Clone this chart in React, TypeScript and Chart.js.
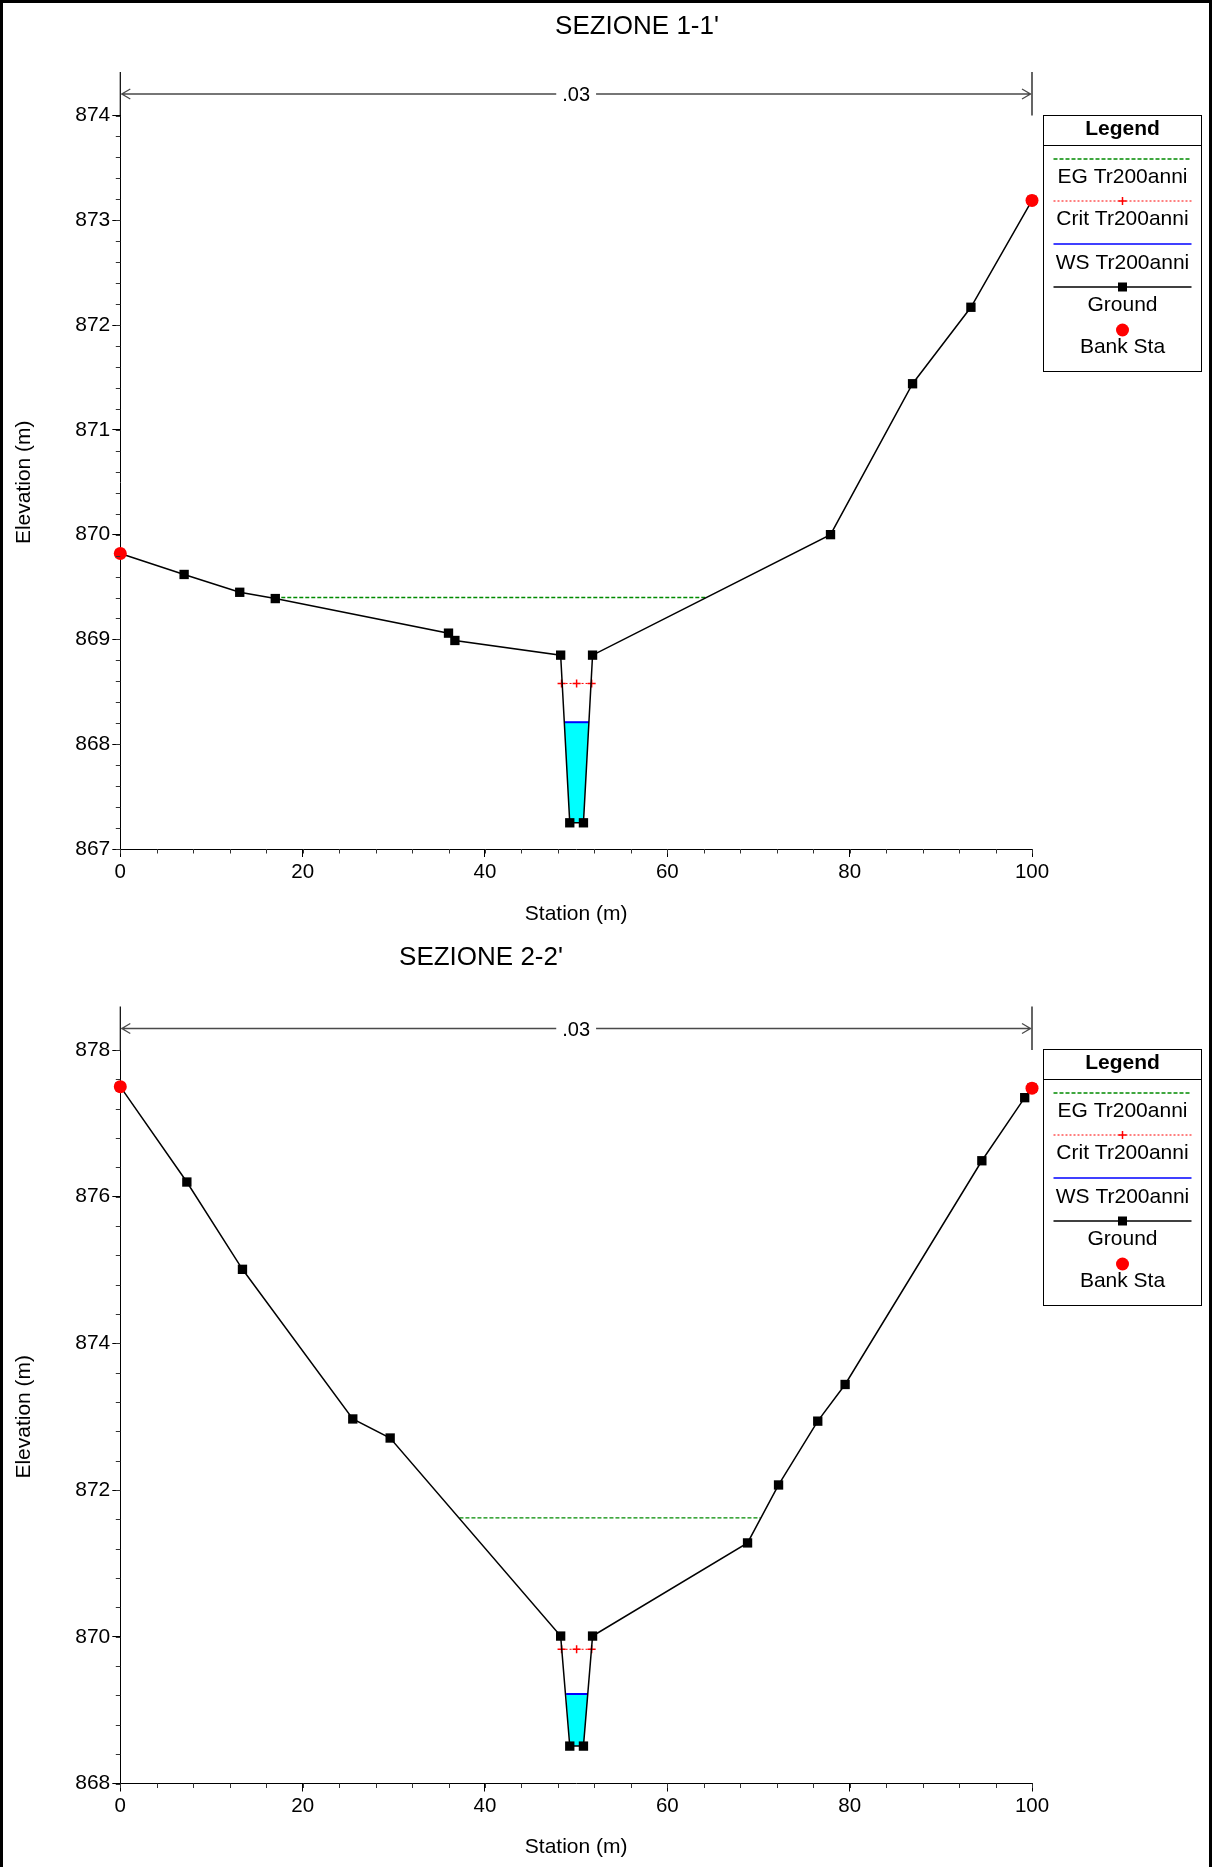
import React, { useEffect, useRef } from "react";
import { Chart, registerables } from "chart.js";

Chart.register(...registerables);

const FONT = "'Liberation Sans', Arial, Helvetica, sans-serif";

// ---------------- Section 1-1' ----------------
const s1Title = "SEZIONE 1-1'";
const s1GroundSta = [0, 7.0, 13.1, 17.0, 36.0, 36.7, 48.3, 49.3, 50.8, 51.8, 77.9, 86.9, 93.3, 100];
const s1GroundElev = [869.82, 869.62, 869.45, 869.39, 869.06, 868.99, 868.85, 867.25, 867.25, 868.85, 870.0, 871.44, 872.17, 873.19];
const s1BankSta = [0, 100];
const s1BankElev = [869.82, 873.19];
const s1EgSta = [17.0, 64.3];
const s1EgElev = 869.4;
const s1CritSta = [48.4, 50.05, 51.7];
const s1CritElev = 868.58;
const s1WsSta = [48.7, 51.4];
const s1WsElev = 868.21;
const s1WaterSta = [48.7, 49.3, 50.8, 51.4];
const s1WaterElev = [868.21, 867.25, 867.25, 868.21];
const s1NValue = ".03";
const s1NSta = [0, 100];
const s1YMin = 867;
const s1YMax = 874;
const s1YStep = 1;
const s1YMinor = 0.2;

// ---------------- Section 2-2' ----------------
const s2Title = "SEZIONE 2-2'";
const s2GroundSta = [0, 7.3, 13.4, 25.5, 29.6, 48.3, 49.3, 50.8, 51.8, 68.8, 72.2, 76.5, 79.5, 94.5, 99.2, 100];
const s2GroundElev = [877.5, 876.2, 875.01, 872.97, 872.71, 870.01, 868.51, 868.51, 870.01, 871.28, 872.07, 872.94, 873.44, 876.49, 877.35, 877.48];
const s2BankSta = [0, 100];
const s2BankElev = [877.5, 877.48];
const s2EgSta = [37.2, 70.2];
const s2EgElev = 871.62;
const s2CritSta = [48.4, 50.05, 51.7];
const s2CritElev = 869.83;
const s2WsSta = [48.9, 51.3];
const s2WsElev = 869.22;
const s2WaterSta = [48.9, 49.3, 50.8, 51.3];
const s2WaterElev = [869.22, 868.51, 868.51, 869.22];
const s2NValue = ".03";
const s2NSta = [0, 100];
const s2YMin = 868;
const s2YMax = 878;
const s2YStep = 2;
const s2YMinor = 0.4;

// shared axis
const xMin = 0;
const xMax = 100;
const xStep = 20;
const xMinor = 4;
const legendLabels = ["EG Tr200anni", "Crit Tr200anni", "WS Tr200anni", "Ground", "Bank Sta"];

type Sec = {
  title: string; titleX: number; titleY: number;
  groundSta: number[]; groundElev: number[];
  bankSta: number[]; bankElev: number[];
  egSta: number[]; egElev: number;
  critSta: number[]; critElev: number;
  wsSta: number[]; wsElev: number;
  waterSta: number[]; waterElev: number[];
  nValue: string; nSta: number[];
  yMin: number; yMax: number; yStep: number; yMinor: number;
  padTop: number; xAxisH: number;
};

const section1: Sec = {
  title: s1Title, titleX: 637, titleY: 27,
  groundSta: s1GroundSta, groundElev: s1GroundElev,
  bankSta: s1BankSta, bankElev: s1BankElev,
  egSta: s1EgSta, egElev: s1EgElev,
  critSta: s1CritSta, critElev: s1CritElev,
  wsSta: s1WsSta, wsElev: s1WsElev,
  waterSta: s1WaterSta, waterElev: s1WaterElev,
  nValue: s1NValue, nSta: s1NSta,
  yMin: s1YMin, yMax: s1YMax, yStep: s1YStep, yMinor: s1YMinor,
  padTop: 115.5, xAxisH: 85,
};

const section2: Sec = {
  title: s2Title, titleX: 481, titleY: 23.5,
  groundSta: s2GroundSta, groundElev: s2GroundElev,
  bankSta: s2BankSta, bankElev: s2BankElev,
  egSta: s2EgSta, egElev: s2EgElev,
  critSta: s2CritSta, critElev: s2CritElev,
  wsSta: s2WsSta, wsElev: s2WsElev,
  waterSta: s2WaterSta, waterElev: s2WaterElev,
  nValue: s2NValue, nSta: s2NSta,
  yMin: s2YMin, yMax: s2YMax, yStep: s2YStep, yMinor: s2YMinor,
  padTop: 116, xAxisH: 83.5,
};

const EG_COLOR = "#008a00";
const CRIT_COLOR = "#ff0000";
const WS_COLOR = "#0000ff";

function makeOverlay(sec: Sec) {
  return {
    id: "hecOverlay",
    afterDraw(chart: any) {
      const ctx: CanvasRenderingContext2D = chart.ctx;
      const xs = chart.scales.x;
      const ys = chart.scales.y;
      const area = chart.chartArea;
      ctx.save();

      // minor ticks
      ctx.strokeStyle = "#333";
      ctx.lineWidth = 1;
      ctx.beginPath();
      const nY = Math.round((sec.yMax - sec.yMin) / sec.yMinor);
      for (let i = 0; i <= nY; i++) {
        const v = sec.yMin + i * sec.yMinor;
        const py = Math.round(ys.getPixelForValue(v)) + 0.5;
        ctx.moveTo(area.left - 4.5, py);
        ctx.lineTo(area.left, py);
      }
      const nX = Math.round((xMax - xMin) / xMinor);
      for (let i = 0; i <= nX; i++) {
        const v = xMin + i * xMinor;
        const px = Math.round(xs.getPixelForValue(v)) + 0.5;
        ctx.moveTo(px, area.bottom);
        ctx.lineTo(px, area.bottom + 4.5);
      }
      ctx.stroke();

      // n-value boundaries and arrow
      const x0 = xs.getPixelForValue(sec.nSta[0]);
      const x1 = xs.getPixelForValue(sec.nSta[1]);
      const ay = area.top - 21.5;
      const vTop = area.top - 43.5;
      ctx.strokeStyle = "#000";
      ctx.lineWidth = 1.2;
      ctx.beginPath();
      ctx.moveTo(x0, vTop);
      ctx.lineTo(x0, area.top);
      ctx.moveTo(x1, vTop);
      ctx.lineTo(x1, area.top);
      ctx.stroke();

      ctx.font = `20px ${FONT}`;
      const midX = xs.getPixelForValue((sec.nSta[0] + sec.nSta[1]) / 2);
      const tw = ctx.measureText(sec.nValue).width;
      ctx.strokeStyle = "#4a4a4a";
      ctx.lineWidth = 1.3;
      ctx.beginPath();
      ctx.moveTo(x0 + 1, ay);
      ctx.lineTo(midX - tw / 2 - 6, ay);
      ctx.moveTo(midX + tw / 2 + 6, ay);
      ctx.lineTo(x1 - 1, ay);
      // arrowheads
      ctx.moveTo(x0 + 10, ay - 5);
      ctx.lineTo(x0 + 1.5, ay);
      ctx.lineTo(x0 + 10, ay + 5);
      ctx.moveTo(x1 - 10, ay - 5);
      ctx.lineTo(x1 - 1.5, ay);
      ctx.lineTo(x1 - 10, ay + 5);
      ctx.stroke();
      ctx.fillStyle = "#000";
      ctx.textAlign = "center";
      ctx.textBaseline = "middle";
      ctx.fillText(sec.nValue, midX, ay + 1.5);

      // title
      ctx.font = `26px ${FONT}`;
      ctx.fillText(sec.title, sec.titleX, sec.titleY);

      // legend
      const L = Math.round(area.right + 11) + 0.5;
      const R = 1201.5;
      const T = Math.round(area.top) - 0.5;
      const H = 256;
      const cx = (L + R) / 2;
      ctx.fillStyle = "#fff";
      ctx.fillRect(L, T, R - L, H);
      ctx.strokeStyle = "#000";
      ctx.lineWidth = 1;
      ctx.strokeRect(L, T, R - L, H);
      ctx.beginPath();
      ctx.moveTo(L, T + 30);
      ctx.lineTo(R, T + 30);
      ctx.stroke();
      ctx.fillStyle = "#000";
      ctx.font = `bold 21px ${FONT}`;
      ctx.fillText("Legend", cx, T + 14);
      const sx0 = L + 10;
      const sx1 = R - 10;
      // EG
      ctx.strokeStyle = EG_COLOR;
      ctx.lineWidth = 1.3;
      ctx.setLineDash([4, 2]);
      ctx.beginPath();
      ctx.moveTo(sx0, T + 43.5);
      ctx.lineTo(sx1, T + 43.5);
      ctx.stroke();
      // Crit
      ctx.strokeStyle = CRIT_COLOR;
      ctx.lineWidth = 1;
      ctx.setLineDash([2, 2]);
      ctx.beginPath();
      ctx.moveTo(sx0, T + 85.5);
      ctx.lineTo(sx1, T + 85.5);
      ctx.stroke();
      ctx.setLineDash([]);
      ctx.lineWidth = 1.5;
      ctx.beginPath();
      ctx.moveTo(cx - 4, T + 85.5);
      ctx.lineTo(cx + 4, T + 85.5);
      ctx.moveTo(cx, T + 81.5);
      ctx.lineTo(cx, T + 89.5);
      ctx.stroke();
      // WS
      ctx.strokeStyle = WS_COLOR;
      ctx.lineWidth = 1.5;
      ctx.beginPath();
      ctx.moveTo(sx0, T + 128.5);
      ctx.lineTo(sx1, T + 128.5);
      ctx.stroke();
      // Ground
      ctx.strokeStyle = "#000";
      ctx.lineWidth = 1.5;
      ctx.beginPath();
      ctx.moveTo(sx0, T + 171.5);
      ctx.lineTo(sx1, T + 171.5);
      ctx.stroke();
      ctx.fillStyle = "#000";
      ctx.fillRect(cx - 4.5, T + 167, 9, 9);
      // Bank
      ctx.fillStyle = "#ff0000";
      ctx.beginPath();
      ctx.arc(cx, T + 214.5, 6.5, 0, Math.PI * 2);
      ctx.fill();
      // labels
      ctx.fillStyle = "#000";
      ctx.font = `21px ${FONT}`;
      const labelY = [62, 104, 148, 190, 232];
      legendLabels.forEach((lab, i) => ctx.fillText(lab, cx, T + labelY[i]));

      ctx.restore();
    },
  };
}

function buildConfig(sec: Sec): any {
  const pts = (xs: number[], yv: number[]) => xs.map((x, i) => ({ x, y: yv[i] }));
  const flat = (xs: number[], v: number) => xs.map((x) => ({ x, y: v }));
  return {
    type: "line",
    data: {
      datasets: [
        {
          label: "Bank Sta",
          data: pts(sec.bankSta, sec.bankElev),
          showLine: false,
          pointStyle: "circle",
          pointRadius: 6.5,
          pointBackgroundColor: "#ff0000",
          pointBorderColor: "#ff0000",
          pointBorderWidth: 0,
          borderColor: "#ff0000",
          clip: false,
          order: 0,
        },
        {
          label: "Ground",
          data: pts(sec.groundSta, sec.groundElev),
          borderColor: "#000",
          borderWidth: 1.5,
          pointStyle: "rect",
          pointRadius: 6.6,
          pointBackgroundColor: "#000",
          pointBorderColor: "#000",
          pointBorderWidth: 0,
          fill: false,
          tension: 0,
          clip: false,
          order: 1,
        },
        {
          label: "Crit Tr200anni",
          data: flat(sec.critSta, sec.critElev),
          borderColor: CRIT_COLOR,
          borderWidth: 1,
          borderDash: [2, 2],
          pointStyle: "cross",
          pointRadius: 4,
          pointBorderColor: CRIT_COLOR,
          pointBorderWidth: 1.5,
          fill: false,
          clip: false,
          order: 2,
        },
        {
          label: "WS Tr200anni",
          data: flat(sec.wsSta, sec.wsElev),
          borderColor: WS_COLOR,
          borderWidth: 2,
          pointRadius: 0,
          fill: false,
          clip: false,
          order: 3,
        },
        {
          label: "EG Tr200anni",
          data: flat(sec.egSta, sec.egElev),
          borderColor: EG_COLOR,
          borderWidth: 1.3,
          borderDash: [4, 2],
          pointRadius: 0,
          fill: false,
          clip: false,
          order: 4,
        },
        {
          label: "Water",
          data: pts(sec.waterSta, sec.waterElev),
          borderColor: "rgba(0,0,0,0)",
          borderWidth: 0,
          backgroundColor: "#00ffff",
          fill: "shape",
          pointRadius: 0,
          clip: false,
          order: 5,
        },
      ],
    },
    options: {
      animation: false,
      responsive: false,
      devicePixelRatio: 1,
      events: [],
      layout: { padding: { top: sec.padTop, right: 180, left: 0, bottom: 0 } },
      plugins: {
        legend: { display: false },
        title: { display: false },
        tooltip: { enabled: false },
      },
      scales: {
        x: {
          type: "linear",
          min: xMin,
          max: xMax,
          ticks: {
            stepSize: xStep,
            color: "#000",
            font: { size: 20.5, family: FONT },
            padding: 3,
            maxRotation: 0,
            autoSkip: false,
          },
          grid: { display: true, drawOnChartArea: false, drawTicks: true, tickLength: 8, tickColor: "#000", tickWidth: 1 },
          border: { display: true, color: "#000", width: 1 },
          title: {
            display: true,
            text: "Station (m)",
            color: "#000",
            font: { size: 21, family: FONT },
            padding: { top: 0, bottom: 7 },
          },
          afterFit: (sc: any) => {
            sc.height = sec.xAxisH;
          },
        },
        y: {
          type: "linear",
          min: sec.yMin,
          max: sec.yMax,
          ticks: {
            stepSize: sec.yStep,
            color: "#000",
            font: { size: 21, family: FONT },
            padding: 2,
          },
          grid: { display: true, drawOnChartArea: false, drawTicks: true, tickLength: 8, tickColor: "#000", tickWidth: 1 },
          border: { display: true, color: "#000", width: 1 },
          title: {
            display: true,
            text: "Elevation (m)",
            color: "#000",
            font: { size: 21, family: FONT },
            padding: { top: 11.4, bottom: 0 },
          },
          afterFit: (sc: any) => {
            sc.width = 120.3;
          },
        },
      },
    },
    plugins: [makeOverlay(sec)],
  };
}

function SectionChart({ sec, top, height }: { sec: Sec; top: number; height: number }) {
  const ref = useRef<HTMLCanvasElement | null>(null);
  useEffect(() => {
    if (!ref.current) return;
    const chart = new Chart(ref.current, buildConfig(sec));
    return () => chart.destroy();
  }, [sec]);
  return (
    <canvas
      ref={ref}
      width={1212}
      height={height}
      style={{ position: "absolute", left: 0, top, width: 1212, height, display: "block" }}
    />
  );
}

export default function App() {
  Chart.defaults.font.family = FONT;
  return (
    <div
      style={{
        position: "absolute",
        left: 0,
        top: 0,
        width: 1212,
        height: 1867,
        background: "#fff",
        overflow: "hidden",
        fontFamily: FONT,
      }}
    >
      <SectionChart sec={section1} top={0} height={934} />
      <SectionChart sec={section2} top={934} height={933} />
      <div
        style={{
          position: "absolute",
          left: 0,
          top: 0,
          width: 1212,
          height: 1867,
          boxSizing: "border-box",
          borderTop: "3px solid #000",
          borderLeft: "3px solid #000",
          borderRight: "3px solid #000",
          pointerEvents: "none",
        }}
      />
    </div>
  );
}
